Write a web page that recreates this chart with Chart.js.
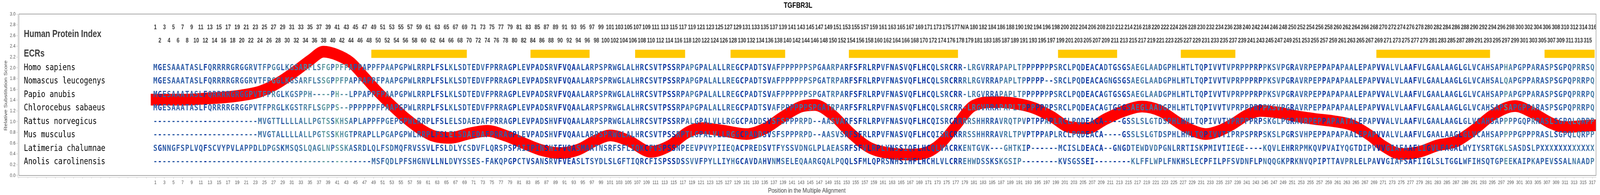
<!DOCTYPE html>
<html><head><meta charset="utf-8">
<script src="https://cdn.jsdelivr.net/npm/chart.js@4.4.0/dist/chart.umd.min.js"></script>
<style>html,body{margin:0;padding:0;background:#fff;overflow:hidden}
#c{display:block;transform-origin:0 0}</style>
</head><body>
<canvas id="c" width="5167" height="500"></canvas>
<script>
// ---------------- DATA ----------------
const chartTitle = 'TGFBR3L';
const xAxisTitle = 'Position in the Multiple Alignment';
const yAxisTitle = 'Relative Substitution Score';
const indexLabel = 'Human Protein Index';
const ecrLabel = 'ECRs';
const species = ['Homo sapiens','Nomascus leucogenys','Papio anubis','Chlorocebus sabaeus',
                 'Rattus norvegicus','Mus musculus','Latimeria chalumnae','Anolis carolinensis'];

const seqHomo = ['MGESAAATASLFQR','RRRGRGGRVTFPGGLKGSARFLSFGPPFPAPPAPPFPAAPGPWLRRPL',
 'FSLKLSDTEDVFPRRAGPLEVPADSRVFVQAALARPSPRWGLALHRC','SVTPSSRPAPGPALALLREGCPADTSVAFPPPPPPSPGAARPARFSFR',
 'LRPVFNASVQFLHCQLSRCRR-LRGVRRAPAPLTPPPPPPPSRCLPQ','DEACADTGSGSAEGLAADGPHLHTLTQPIVVTVPRPPPRPPKSVPGR',
 'AVRPEPPAPAPAALEPAPVVALVLAAFVLGAALAAG','LGLVCAHSAPHAPGPPARASPSGPQPRRSQ'].join('');
const seqNomascus = ['MGESAAATASLFQR','RRRGRGGRVTFPGGLKGSARFLSSGPPFPAPPAPPFPAAPGPWLRRPL',
 'FSLKLSDTEDVFPRRAGPLEVPADSRVFVQAALARPSPRWGLALHRC','SVTPSSRPAPGPALALLREGCPADTSVAFPPPPPPSPGATRPARFSFR',
 'LRPVFNASVQFLHCQLSRCRRRLRGVRRAPAPLTPPPPP--SRCLPQ','DEACAGNGSGSAEGLAADGPHLHTLTQPIVVTVPRPPPRPPKSVPGR',
 'AVRPEPPAPAPAALEPAPVVALVLAAFVLGAALAAG','LGLVCAHSALQAPGPPARASPSGPQPRRPQ'].join('');
const seqPapio = ['MGESAAATASLFQR','RRRGRGGPVTFPRGLKGSPPH----PH--LPPAPPFPAAPGPWLRRPL',
 'FSLKLSDTEDVFPRRAGPLEVPADSRVFVQAALARPSPRWGLALHRC','SVTPSSRPAPGPALALLREGCPADTSVAFPPPPPPSPGATRPARFSFR',
 'LRPVFNASVQFLHCQLSRCRR-LRGVRRAPAPLTPPPPPPPSRCLPQ','DEACAGTGSGSAEGLAADGPHLHTLTQPIVVTVPRPPPRPPKSVPGR',
 'AVRPEPPAPAPAALEPAPVVALVLAAFVLGAALAAG','LGLVCAHSAPPAPGPPARASPSGPQPRRPQ'].join('');
const seqChlorocebus = ['MGESAAATASLFQR','RRRGRGGPVTFPRGLKGSTRFLSGPPS--PPPPPPFPAAPGPWLRRPL',
 'FSLKLSDTEDVFPRRAGPLEVPADSRVFVQAALARPSPRWGLALHRC','SVTPSSRPAPGPALALLREGCPADTSVAFPPPPPPSPGATRPARFSFR',
 'LRPVFNASVQFLHCQLSRCRR-LRGVRRAPAPLTPPPPPPPSRCLPQ','DEACAGTGSGSAEGLAADGPHLHTLTQPIVVTVPRPPPRPPKSVPGR',
 'AVRPEPPAPAPAALEPAPVVALVLAAFVLGAALAAG','LGLVCAHSAPSAPGPPARASPSGPQPRRPQ'].join('');
const seqRattus = ['--------------','---------MVGTTLLLLALLPGTSSKHSAPLAPPFPGEPGPWLRRPL',
 'FSLELSDAEDAFPRRAGPLEVPADSHVFVQAALARPSPRWGLALHRC','SVTPSSRPALGPALVLLRGGCPADDSVSFSPPPRPD--AASVARFSFR',
 'LRPVFNASVQFLHCQISRCRRRRSHHRRAVRQTPVPTPPAPLRCLPQ','DEACA----GSSLSLGTDSPHLHMLTQPIVVTVPRPPPRPSKGLPGR',
 'AVRPEPPAPAATALEPAPVVALVLAAFVLGAALAAG','LGLVCAHSAPPPPGQPRRASLSGPQLQRPP'].join('');
const seqMus = ['--------------','---------MVGTALLLLALLPGTSSKHGTPRAPLLPGAPGPWLRRPL',
 'FSLELSDAEDAFPRRAGPLEVPADSHVFVQAALARPSPRWGLALHRC','SVTPSSRPTLGPALVLLRGGCPADDSVSFSPPPRPD--AASVSRFSFR',
 'LRPVFNASVQFLHCQISRCRRRSSHHRRAVRLTPVPTPPAPLRCLPQ','DEACA----GSSLSLGTDSPHLHMLTQPIVVTIPRPSPRPSKSLPGR',
 'SVHPEPPAPAPAALEPAPVVALVLAAFVLGAALAAG','LGLVCAHSAPPPPGPPPRASLSGPQLQRPP'].join('');
const seqLatimeria = ['SGNNGFSPLVQFSC','VYPVLAPPDLDPGSKMSQSLQAGLNPSSKASRDLQLFSDMQFRVSSVL',
 'FSLDLYCSDVFLQRSPSPAIIPINSHIFVQASMAATNSRFSFLIQKC','FVSPSSNPEEVPVYPIIEQACPREDSVTFYSSVDNGLPLAEASRFSFV',
 'LRPLYNSSIQFLHCQLVACRKENTGVK---GHTKIP------MCISL','DEACA--GNGDTEWDVDPGNLRRTISKPMIVTIEGE----KQVLEHR',
 'RPMKQVPVAIYQGTDIPVVVGIAFAAFLIGVLFAGA','LWYIYSRTGKLSASDSLPXXXXXXXXXXXX'].join('');
const seqAnolis = ['--------------','----------------------------------MSFQDLPFSHGNVL',
 'LNLDVYSSES-FAKQPGPCTVSANSRVFVEASLTSYDLSLGFTIQRC','FISPSSDSSVVFPYLLIYHGCAVDAHVNMSELEQAARGQALPQQLSFM',
 'LQPRSNHSIHFLHCHLVLCRREHWDSSKSKGSIP--------KVSGS','SEI--------KLFFLWPLFNKHSLECPFILPFSVDNFLPNQQGKPR',
 'KNVQPIPTTAVPRLELPAVVGIAFSAFIIGLSLTGG','LWFIHSQTGPEEKAIPKAPEVSSALNAADP'].join('');

// Relative substitution score (smoothed curve) read at alignment positions
const scorePos = [0,4,8,12,16,20,24,28,32,35,38,41,44,47,50,53,56,59,62,66,70,74,78,82,86,90,94,98,101,105,
  110,114,118,121,126,131,135,139,143,146,150,154,158,162,167,171,174,177,181,186,190,194,198,202,206,210,214,
  218,222,226,229,232,235,238,241,244,248,252,256,260,264,268,271,275,279,283,287,291,295,300,304,308,311,315,318];
const scoreVal = [1.41,1.41,1.41,1.43,1.45,1.49,1.56,1.72,1.95,2.14,2.30,2.24,2.10,1.83,1.55,1.30,1.07,0.88,0.74,0.70,
  0.78,0.83,0.74,0.60,0.47,0.415,0.48,0.66,0.745,0.65,0.44,0.55,0.80,0.88,0.83,0.77,0.87,1.09,1.28,1.31,1.12,0.78,
  0.52,0.42,0.39,0.44,0.62,0.92,1.30,1.365,1.34,1.26,1.10,0.90,0.88,1.05,1.20,1.28,1.20,0.98,0.84,0.77,0.83,0.96,
  1.12,1.20,1.17,1.10,1.05,1.01,0.94,0.75,0.55,0.40,0.44,0.56,0.63,0.85,1.12,1.29,1.16,0.97,0.90,0.92,0.935];

// Evolutionarily conserved regions (alignment positions)
const ecrStart = [48.5, 83.5, 106.5, 127.5, 153.5, 199.5, 226.5, 269.5, 306.5];
const ecrEnd   = [69.5, 96.5, 117.5, 139.5, 177.5, 212.5, 238.5, 294.5, 317.5];

// ---------------- LAYOUT (data-space placements) ----------------
const rows = [seqHomo, seqNomascus, seqPapio, seqChlorocebus, seqRattus, seqMus, seqLatimeria, seqAnolis];
const rowY = [2.0, 1.75, 1.5, 1.25, 1.0, 0.75, 0.5, 0.25];
const labelX = -27.9, indexOddY = 2.75, indexEvenY = 2.5, indexLabelY = 2.625, ecrY = 2.26;
const nCols = seqHomo.length;

// Human index labels derived from the human sequence
const humanIndex = [];
{ let k = 0; for (const ch of seqHomo) { if (ch === '-') humanIndex.push('N/A'); else { k++; humanIndex.push(String(k)); } } }

function colConservation(c) {
  const cnt = {}; let ng = 0;
  for (const s of rows) { const ch = s[c]; if (ch && ch !== '-') { ng++; cnt[ch] = (cnt[ch] || 0) + 1; } }
  if (!ng) return 0;
  let m = 0; for (const k in cnt) m = Math.max(m, cnt[k]);
  return (m / ng) * (0.85 + 0.15 * ng / rows.length);
}
const stops = [[1.0,[8,50,160]],[0.8,[45,90,168]],[0.6,[62,112,168]],[0.45,[75,130,165]],[0.3,[100,160,160]],[0.2,[140,195,155]]];
function consColor(f) {
  if (f >= stops[0][0]) return 'rgb(' + stops[0][1].join(',') + ')';
  for (let i = 0; i < stops.length - 1; i++) {
    const [a, ca] = stops[i], [b, cb] = stops[i + 1];
    if (f <= a && f >= b) {
      const t = (a - f) / (a - b);
      return 'rgb(' + ca.map((v, j) => Math.round(v + (cb[j] - v) * t)).join(',') + ')';
    }
  }
  return 'rgb(' + stops[stops.length - 1][1].join(',') + ')';
}

const ecrData = [];
ecrStart.forEach((s, i) => { ecrData.push({x: s, y: ecrY}, {x: ecrEnd[i], y: ecrY}, {x: ecrEnd[i] + 0.01, y: null}); });

const overlay = {
  id: 'overlay',
  afterDatasetsDraw(chart) {
    const ctx = chart.ctx, xs = chart.scales.x, ys = chart.scales.y, ca = chart.chartArea;
    ctx.save();
    ctx.beginPath(); ctx.rect(ca.left, ca.top, ca.right - ca.left, ca.bottom - ca.top); ctx.clip();
    const lx = xs.getPixelForValue(labelX);
    ctx.textBaseline = 'middle';
    ctx.textAlign = 'left';
    ctx.fillStyle = '#3c3c3c';
    ctx.font = 'bold 25px "Liberation Sans", Arial, sans-serif';
    ctx.fillText(indexLabel, lx, ys.getPixelForValue(indexLabelY));
    ctx.fillText(ecrLabel, lx, ys.getPixelForValue(ecrY));
    ctx.fillStyle = '#000';
    ctx.font = '23px "DejaVu Sans Mono", monospace';
    species.forEach((n, i) => ctx.fillText(n, lx, ys.getPixelForValue(rowY[i])));
    ctx.textAlign = 'center';
    ctx.fillStyle = '#333';
    ctx.font = 'bold 16px "Liberation Sans", Arial, sans-serif';
    for (let c = 1; c <= nCols; c++) {
      ctx.fillText(humanIndex[c - 1], xs.getPixelForValue(c), ys.getPixelForValue(c % 2 ? indexOddY : indexEvenY));
    }
    ctx.font = 'bold 22px "DejaVu Sans Mono", monospace';
    for (let c = 1; c <= nCols; c++) {
      ctx.fillStyle = consColor(colConservation(c - 1));
      const px = xs.getPixelForValue(c);
      rows.forEach((s, i) => { const ch = s[c - 1]; if (ch) ctx.fillText(ch, px, ys.getPixelForValue(rowY[i])); });
    }
    ctx.restore();
  },
  afterDraw(chart) {
    const ctx = chart.ctx, xs = chart.scales.x, ys = chart.scales.y, ca = chart.chartArea;
    ctx.save();
    ctx.strokeStyle = '#8a8a8a'; ctx.lineWidth = 1.5;
    const l = xs.getPixelForValue(-29), b = ys.getPixelForValue(0);
    ctx.strokeRect(l, ca.top, ca.right - l, b - ca.top);
    ctx.restore();
  }
};

const xTicks = []; for (let v = -29; v <= 317; v += 2) xTicks.push(v);
const yTicks = []; for (let i = 0; i <= 15; i++) yTicks.push(+(i * 0.2).toFixed(1));

// the browser viewport may be narrower than the 5167px design width: fit it horizontally
const cv = document.getElementById('c');
const fit = Math.min(1, (window.innerWidth || 5167) / 5167);
cv.style.transform = 'scaleX(' + fit + ')';

new Chart(cv, {
  type: 'line',
  data: { datasets: [
    { label: 'score', data: scorePos.map((p, i) => ({x: p, y: scoreVal[i]})), borderColor: '#ff0000',
      borderWidth: 30, pointRadius: 0, cubicInterpolationMode: 'monotone', borderCapStyle: 'butt',
      borderJoinStyle: 'round', fill: false },
    { label: 'ECR', data: ecrData, borderColor: '#ffc800', borderWidth: 21, pointRadius: 0, tension: 0,
      borderCapStyle: 'butt', spanGaps: false, fill: false }
  ]},
  options: {
    responsive: false, animation: false, devicePixelRatio: 1,
    layout: { padding: { left: 0, right: 13, top: 0, bottom: 0 } },
    plugins: {
      legend: { display: false }, tooltip: { enabled: false },
      title: { display: true, text: chartTitle, color: '#000', font: { family: '"Liberation Sans", Arial, sans-serif', size: 20, weight: 'bold' }, padding: { top: 2, bottom: 10 } }
    },
    scales: {
      x: { type: 'linear', min: -29.27, max: 317.8,
        afterBuildTicks: s => { s.ticks = xTicks.map(v => ({value: v})); },
        afterFit: s => { s.height = 46; },
        ticks: { autoSkip: false, maxRotation: 0, color: '#555', padding: 3,
          font: { family: '"Liberation Sans", Arial, sans-serif', size: 13 },
          callback: v => (v >= 1 ? String(v) : '') },
        grid: { drawOnChartArea: false, tickLength: 4, color: '#c4c4c4' },
        border: { color: '#c4c4c4' },
        title: { display: true, text: xAxisTitle, color: '#444', font: { family: '"Liberation Sans", Arial, sans-serif', size: 17 }, padding: { top: 1, bottom: 0 } }
      },
      y: { type: 'linear', min: -0.029, max: 3,
        afterBuildTicks: s => { s.ticks = yTicks.map(v => ({value: v})); },
        afterFit: s => { s.width = 57; },
        ticks: { color: '#555', padding: 3, font: { family: '"Liberation Sans", Arial, sans-serif', size: 13 },
          callback: v => Number(v).toFixed(1) },
        grid: { drawOnChartArea: false, tickLength: 4, color: '#c4c4c4' },
        border: { color: '#c4c4c4' },
        title: { display: true, text: yAxisTitle, color: '#444', font: { family: '"Liberation Sans", Arial, sans-serif', size: 15 }, padding: { top: 10, bottom: 2 } }
      }
    }
  },
  plugins: [overlay]
});
</script>
</body></html>
